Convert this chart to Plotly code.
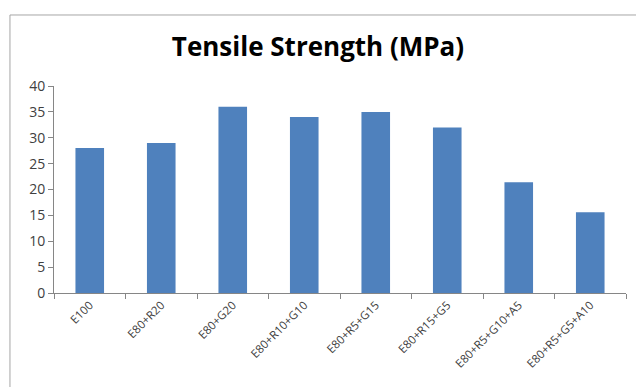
import plotly.graph_objects as go

categories = ["E100", "E80+R20", "E80+G20", "E80+R10+G10", "E80+R5+G15",
              "E80+R15+G5", "E80+R5+G10+A5", "E80+R5+G5+A10"]
tensile_strength = [28, 29, 36, 34, 35, 32, 21.4, 15.6]
y_ticks = [0, 5, 10, 15, 20, 25, 30, 35, 40]

fig = go.Figure(go.Bar(
    x=categories,
    y=tensile_strength,
    marker=dict(color="#4F81BD", line=dict(width=0)),
))

axis_color = "#868686"
label_color = "#404040"

fig.update_layout(
    width=636, height=387,
    margin=dict(l=54, r=10, t=86, b=94),
    paper_bgcolor="white", plot_bgcolor="white",
    bargap=0.6,
    showlegend=False,
    title=dict(text="<b>Tensile Strength (MPa)</b>", x=0.5, xanchor="center",
               y=0.878, yanchor="middle",
               font=dict(family="Open Sans", size=26, color="black")),
    font=dict(family="Open Sans", color=label_color),
    xaxis=dict(
        showline=True, linecolor=axis_color, linewidth=1,
        ticks="outside", tickson="boundaries", ticklen=5, tickcolor=axis_color,
        tickangle=-45, tickfont=dict(size=11.5, color=label_color),
        showgrid=False,
    ),
    yaxis=dict(
        range=[0, 40], tickvals=y_ticks,
        showline=True, linecolor=axis_color, linewidth=1,
        ticks="outside", ticklen=5, tickcolor=axis_color,
        tickfont=dict(size=14, color=label_color),
        showgrid=False, zeroline=False,
    ),
    shapes=[dict(type="rect", xref="paper", yref="paper",
                 x0=-0.077, x1=1.3, y0=-1.0, y1=1.343,
                 line=dict(color="#a6a6a6", width=1), fillcolor="rgba(0,0,0,0)",
                 layer="below")],
)

fig.write_html("out.html")
